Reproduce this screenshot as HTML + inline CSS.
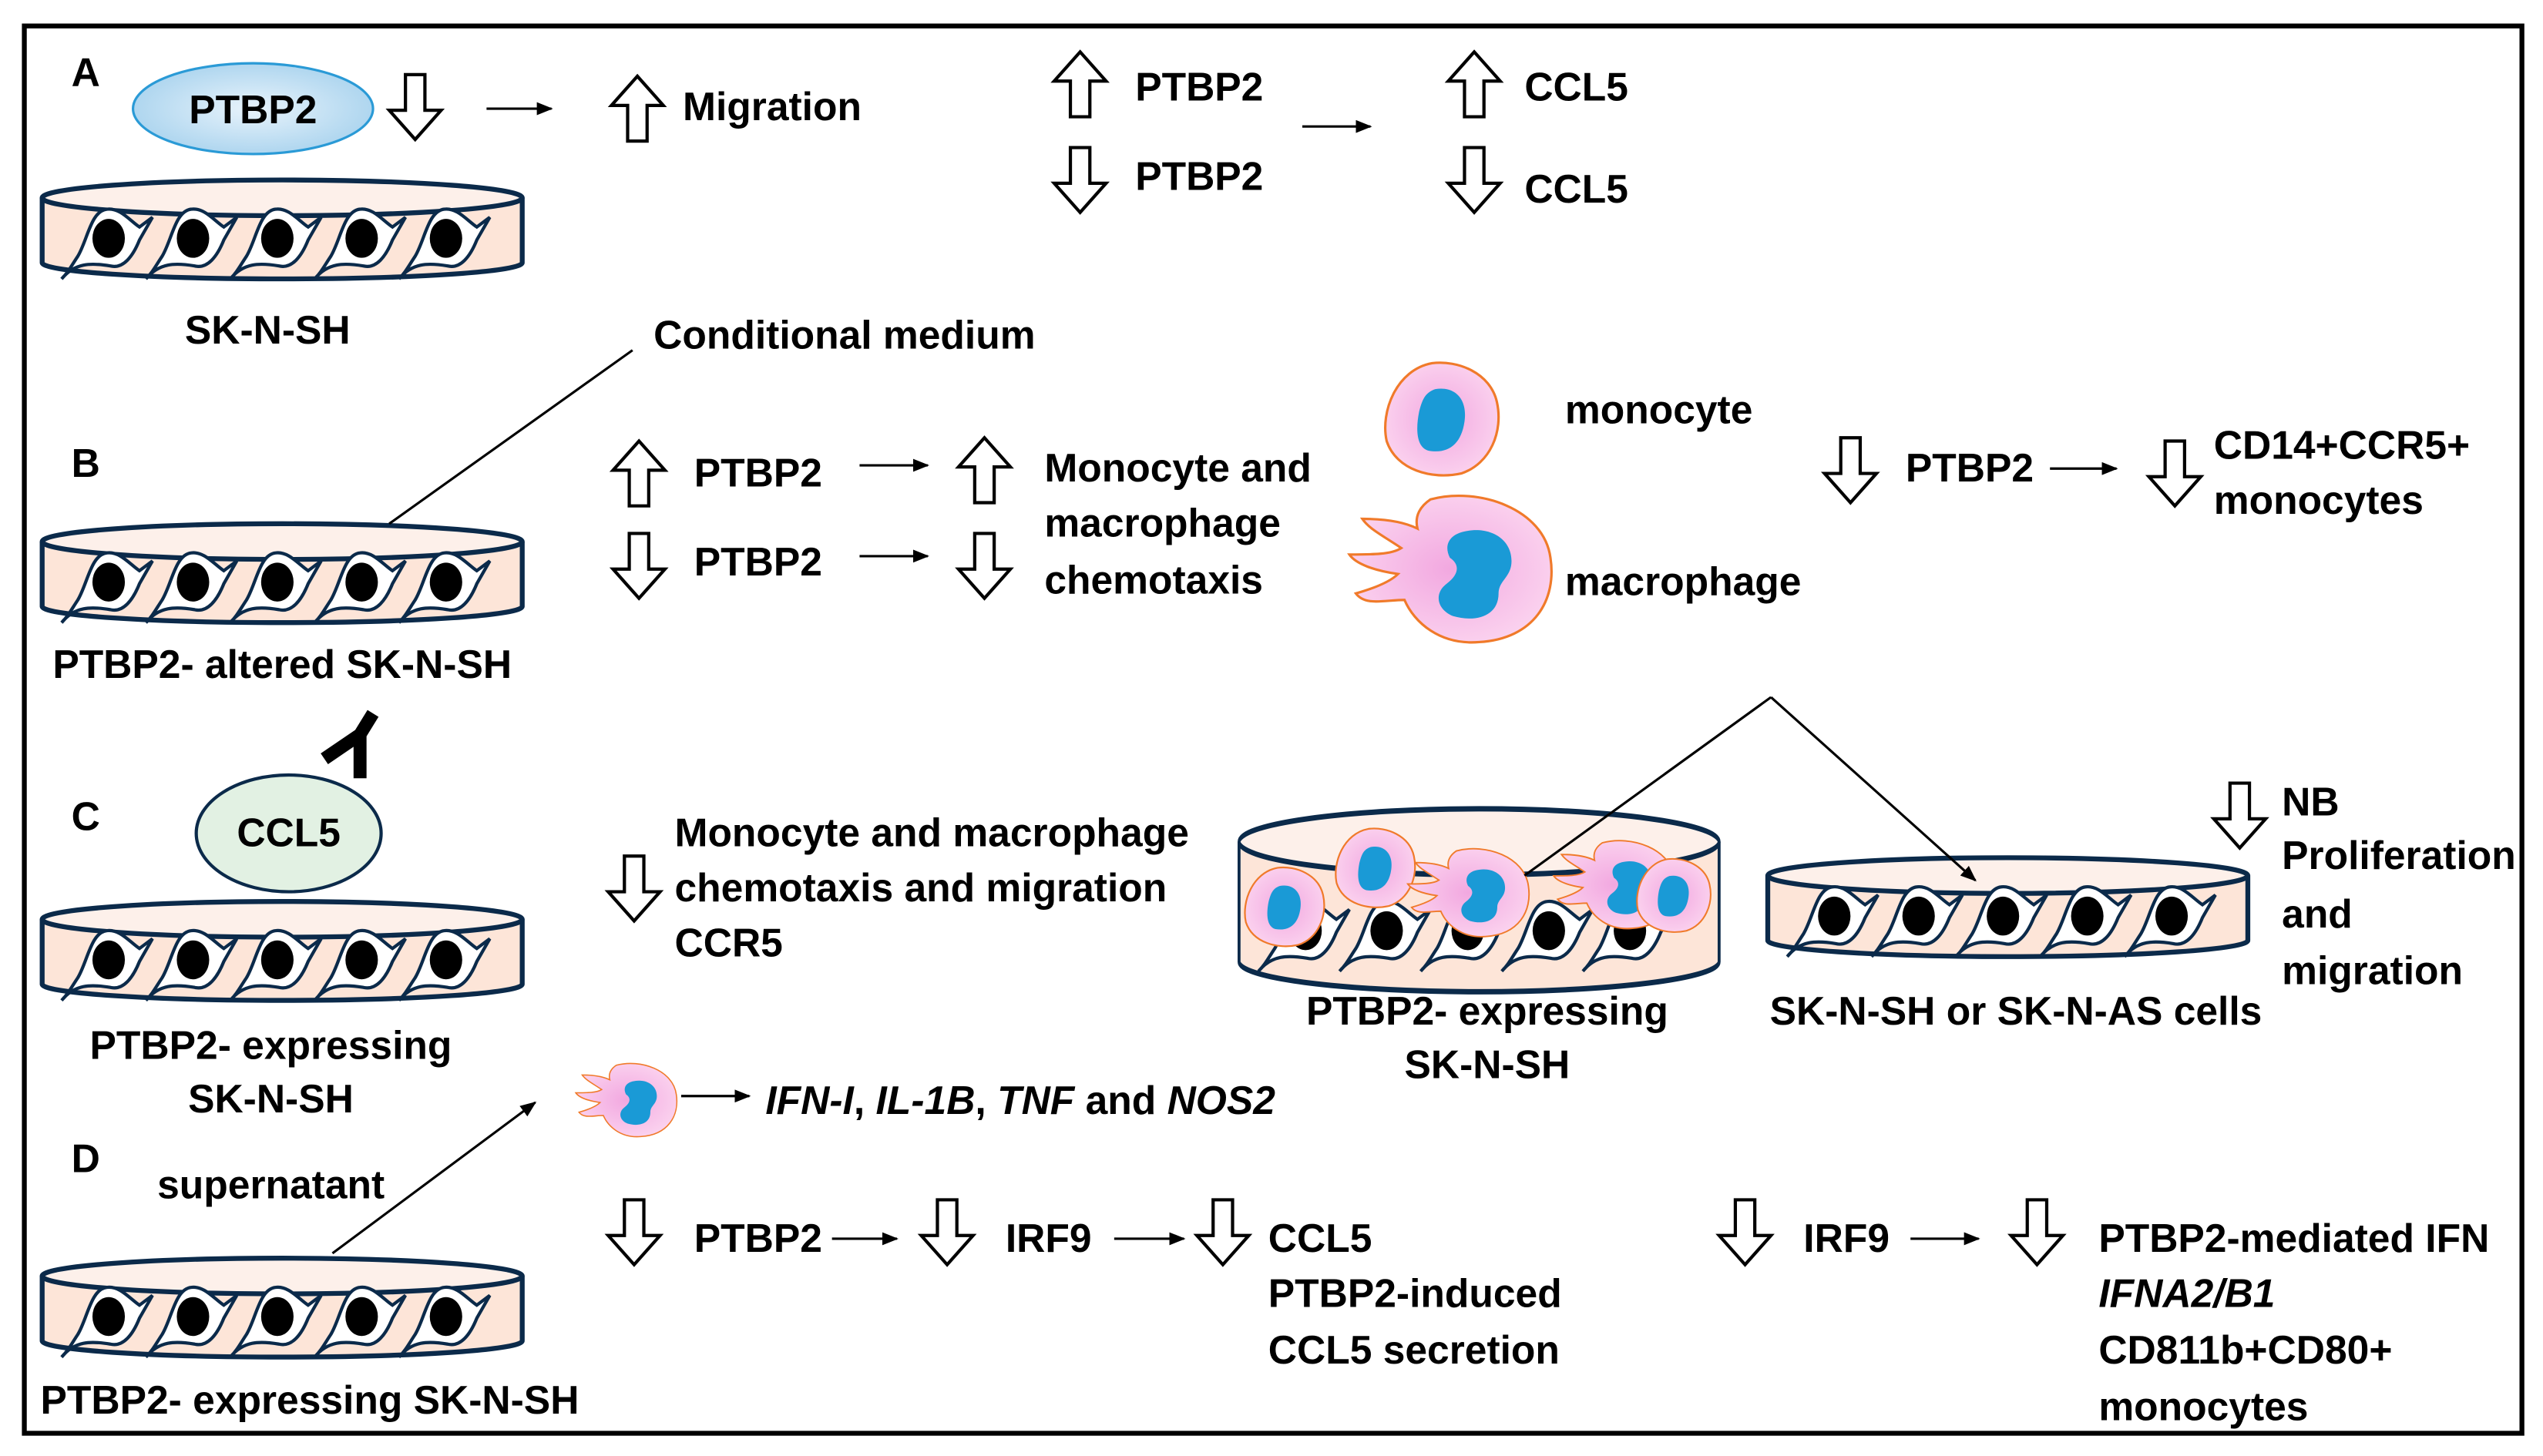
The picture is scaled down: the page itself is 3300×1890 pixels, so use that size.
<!DOCTYPE html>
<html><head><meta charset="utf-8"><style>html,body{margin:0;padding:0;background:#fff}svg{display:block}text{font-family:"Liberation Sans",sans-serif;font-weight:bold;font-size:24.5px;fill:#000}</style></head><body>
<svg width="3300" height="1890" viewBox="0 0 1568 898" xmlns="http://www.w3.org/2000/svg">
<defs>
<radialGradient id="bl" cx="50%" cy="50%" r="55%"><stop offset="0" stop-color="#e8f3fb"/><stop offset="1" stop-color="#a9d3ee"/></radialGradient>
<radialGradient id="pk" cx="50%" cy="50%" r="55%"><stop offset="0" stop-color="#f2a8e0"/><stop offset="1" stop-color="#fbd3ef"/></radialGradient>
<path id="up" d="M16,0 L32,18 L22,18 L22,40 L10,40 L10,18 L0,18 Z" fill="#fff" stroke="#000" stroke-width="2"/>
<path id="dn" d="M10,0 L22,0 L22,22 L32,22 L16,40 L0,22 L10,22 Z" fill="#fff" stroke="#000" stroke-width="2"/>
<marker id="ah" markerWidth="10" markerHeight="8" refX="9" refY="4" orient="auto" markerUnits="userSpaceOnUse"><path d="M0,0 L10,4 L0,8 Z" fill="#000"/></marker>
<g id="cell"><path d="M2,44 C10,34 20,34 32,36 C40,38 46,30 50,20 L58,6 L50,12 C44,8 38,0 30,1 C20,2 18,20 12,30 C8,36 6,40 2,44 Z" fill="#fff" stroke="#0b2a4a" stroke-width="2"/><ellipse cx="31" cy="19" rx="10" ry="12" fill="#000"/></g>
<g id="dish"><path d="M0,12 L0,52 A148,10 0 0 0 296,52 L296,12" fill="#fde5d8" stroke="#0b2a4a" stroke-width="3"/><ellipse cx="148" cy="12" rx="148" ry="11" fill="#fdf0ea" stroke="#0b2a4a" stroke-width="3"/>
<use href="#cell" x="10" y="18"/><use href="#cell" x="62" y="18"/><use href="#cell" x="114" y="18"/><use href="#cell" x="166" y="18"/><use href="#cell" x="218" y="18"/></g>
<g id="mono"><path d="M-6,-34 C10,-36 30,-28 34,-10 C38,8 30,28 12,34 C-6,38 -28,32 -34,14 C-38,-4 -28,-30 -6,-34 Z" fill="url(#pk)" stroke="#f07a2a" stroke-width="1.5"/><path d="M-4,-18 C8,-20 16,-12 14,2 C12,16 4,22 -8,20 C-16,18 -16,6 -14,-4 C-12,-12 -10,-16 -4,-18 Z" fill="#1a9ad6"/></g>
<g id="macro"><path d="M-20,-42 C10,-50 50,-36 54,-6 C58,20 44,44 10,46 C-14,48 -30,34 -36,20 C-48,20 -60,24 -66,16 C-52,12 -44,8 -40,4 C-54,2 -66,-2 -70,-8 C-56,-8 -44,-8 -38,-12 C-50,-20 -58,-24 -62,-30 C-48,-30 -36,-28 -28,-24 C-30,-32 -26,-38 -20,-42 Z" fill="url(#pk)" stroke="#f07a2a" stroke-width="1.5"/><path d="M0,-22 C16,-26 30,-18 30,-4 C30,6 22,8 22,16 C22,30 8,34 -6,30 C-16,26 -18,16 -10,10 C-2,4 -2,-2 -8,-6 C-12,-14 -8,-20 0,-22 Z" fill="#1a9ad6"/></g>
</defs>
<rect x="15" y="16" width="1540" height="868" fill="none" stroke="#000" stroke-width="3"/>
<!-- A -->
<text x="44" y="53">A</text>
<ellipse cx="156" cy="67" rx="74" ry="28" fill="url(#bl)" stroke="#2a9ad6" stroke-width="1.5"/>
<text x="156" y="76" text-anchor="middle">PTBP2</text>
<use href="#dn" x="240" y="46"/>
<line x1="300" y1="67" x2="340" y2="67" stroke="#000" stroke-width="1.5" marker-end="url(#ah)"/>
<use href="#up" x="377" y="47"/>
<text x="421" y="74">Migration</text>
<use href="#dish" x="26" y="110"/>
<text x="165" y="212" text-anchor="middle">SK-N-SH</text>
<use href="#up" x="650" y="32"/><text x="700" y="62">PTBP2</text>
<use href="#dn" x="650" y="91"/><text x="700" y="117">PTBP2</text>
<line x1="803" y1="78" x2="845" y2="78" stroke="#000" stroke-width="1.5" marker-end="url(#ah)"/>
<use href="#up" x="893" y="32"/><text x="940" y="62">CCL5</text>
<use href="#dn" x="893" y="91"/><text x="940" y="125">CCL5</text>
<!-- B -->
<text x="403" y="215">Conditional medium</text>
<use href="#dish" x="26" y="322"/>
<line x1="390" y1="216" x2="240" y2="323" stroke="#000" stroke-width="1.5"/>
<text x="44" y="294">B</text>
<text x="174" y="418" text-anchor="middle">PTBP2- altered SK-N-SH</text>
<use href="#up" x="378" y="272"/><text x="428" y="300">PTBP2</text>
<line x1="530" y1="287" x2="572" y2="287" stroke="#000" stroke-width="1.5" marker-end="url(#ah)"/>
<use href="#up" x="591" y="270"/>
<use href="#dn" x="378" y="329"/><text x="428" y="355">PTBP2</text>
<line x1="530" y1="343" x2="572" y2="343" stroke="#000" stroke-width="1.5" marker-end="url(#ah)"/>
<use href="#dn" x="591" y="329"/>
<text x="644" y="297">Monocyte and</text><text x="644" y="331">macrophage</text><text x="644" y="366">chemotaxis</text>
<use href="#mono" transform="translate(889,258)"/>
<use href="#macro" transform="translate(902,350)"/>
<text x="965" y="261">monocyte</text><text x="965" y="367">macrophage</text>
<use href="#dn" x="1125" y="270"/><text x="1175" y="297">PTBP2</text>
<line x1="1264" y1="289" x2="1305" y2="289" stroke="#000" stroke-width="1.5" marker-end="url(#ah)"/>
<use href="#dn" x="1325" y="272"/>
<text x="1365" y="283">CD14+CCR5+</text><text x="1365" y="317">monocytes</text>
<!-- C -->
<path d="M230,440 L222,453 L200,468 M222,453 L222,480" fill="none" stroke="#000" stroke-width="8" stroke-linejoin="miter"/>
<text x="44" y="512">C</text>
<use href="#dish" x="26" y="555"/>
<ellipse cx="178" cy="514" rx="57" ry="36" fill="#e2f1e3" stroke="#0b2a4a" stroke-width="2"/>
<text x="178" y="522" text-anchor="middle">CCL5</text>
<text x="167" y="653" text-anchor="middle">PTBP2- expressing</text><text x="167" y="686" text-anchor="middle">SK-N-SH</text>
<use href="#dn" x="375" y="528"/>
<text x="416" y="522">Monocyte and macrophage</text><text x="416" y="556">chemotaxis and migration</text><text x="416" y="590">CCR5</text>
<g transform="translate(764,497) scale(1,1.85)"><path d="M0,12 L0,52 A148,10 0 0 0 296,52 L296,12" fill="#fde5d8" stroke="#0b2a4a" stroke-width="1.8"/><ellipse cx="148" cy="12" rx="148" ry="11" fill="#fdf0ea" stroke="#0b2a4a" stroke-width="1.8"/></g>
<g transform="translate(764,555)"><use href="#cell" x="10" y="0"/><use href="#cell" x="60" y="0"/><use href="#cell" x="110" y="0"/><use href="#cell" x="160" y="0"/><use href="#cell" x="210" y="0"/></g>
<use href="#mono" transform="translate(792,559) scale(0.7)"/>
<use href="#mono" transform="translate(848,535) scale(0.7)"/>
<use href="#macro" transform="translate(910,550) scale(0.6)"/>
<use href="#macro" transform="translate(1000,545) scale(0.6)"/>
<use href="#mono" transform="translate(1032,552) scale(0.65)"/>
<use href="#dish" x="1090" y="528"/>
<line x1="1092" y1="430" x2="940" y2="540" stroke="#000" stroke-width="1.5"/>
<line x1="1092" y1="430" x2="1218" y2="543" stroke="#000" stroke-width="1.5" marker-end="url(#ah)"/>
<text x="917" y="632" text-anchor="middle">PTBP2- expressing</text><text x="917" y="665" text-anchor="middle">SK-N-SH</text>
<text x="1243" y="632" text-anchor="middle">SK-N-SH or SK-N-AS cells</text>
<use href="#dn" x="1365" y="483"/>
<text x="1407" y="503">NB</text><text x="1407" y="536">Proliferation</text><text x="1407" y="572">and</text><text x="1407" y="607">migration</text>
<!-- D -->
<use href="#macro" transform="translate(390,678) scale(0.5)"/>
<line x1="420" y1="676" x2="462" y2="676" stroke="#000" stroke-width="1.5" marker-end="url(#ah)"/>
<text x="472" y="687"><tspan font-style="italic">IFN-I</tspan>, <tspan font-style="italic">IL-1B</tspan>, <tspan font-style="italic">TNF</tspan> and <tspan font-style="italic">NOS2</tspan></text>
<text x="44" y="723">D</text>
<text x="97" y="739">supernatant</text>
<use href="#dish" x="26" y="775"/>
<line x1="205" y1="773" x2="330" y2="680" stroke="#000" stroke-width="1.5" marker-end="url(#ah)"/>
<text x="191" y="872" text-anchor="middle">PTBP2- expressing SK-N-SH</text>
<use href="#dn" x="375" y="740"/><text x="428" y="772">PTBP2</text>
<line x1="513" y1="764" x2="553" y2="764" stroke="#000" stroke-width="1.5" marker-end="url(#ah)"/>
<use href="#dn" x="568" y="740"/><text x="620" y="772">IRF9</text>
<line x1="687" y1="764" x2="730" y2="764" stroke="#000" stroke-width="1.5" marker-end="url(#ah)"/>
<use href="#dn" x="738" y="740"/>
<text x="782" y="772">CCL5</text><text x="782" y="806">PTBP2-induced</text><text x="782" y="841">CCL5 secretion</text>
<use href="#dn" x="1060" y="740"/><text x="1112" y="772">IRF9</text>
<line x1="1178" y1="764" x2="1220" y2="764" stroke="#000" stroke-width="1.5" marker-end="url(#ah)"/>
<use href="#dn" x="1240" y="740"/>
<text x="1294" y="772">PTBP2-mediated IFN</text><text x="1294" y="806" font-style="italic">IFNA2/B1</text><text x="1294" y="841">CD811b+CD80+</text><text x="1294" y="876">monocytes</text>
</svg>
</body></html>
